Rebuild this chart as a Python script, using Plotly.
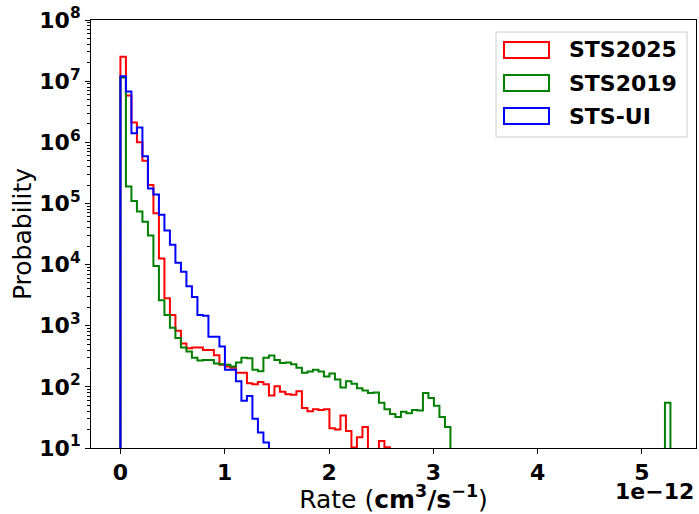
import numpy as np
import plotly.graph_objects as go

# histogram bins: width in units of 1e-12 cm^3/s, bins start at 0
BIN_W = 0.05273
FLOOR = 1e-3  # stand-in for empty bins on the log axis (falls below the range)

labels = ["STS2025", "STS2019", "STS-UI"]
colors = ["#ff0000", "#008000", "#0000ff"]

sts2025 = [2.5e7, 5.8e6, 2.1e6, 1.0e6, 5.0e5, 2.0e5, 6.9e4, 1.26e4, 2.8e3, 1.5e3,
           830, 510, 430, 440, 440, 400, 400, 330, 230, 215,
           205, 170, 170, 115, 110, 120, 110, 72, 102, 83,
           76, 74, 85, 45, 40, 43, 42, 43, 21, 20,
           34, 19, 10.2, 15, 22, 0, 0, 13, 10.3]

sts2019 = [1.15e7, 1.9e5, 1.1e5, 7.4e4, 5.0e4, 3.0e4, 9.5e3, 2.6e3, 1.5e3, 930,
           630, 440, 380, 300, 270, 275, 275, 240, 235, 230,
           215, 250, 300, 295, 190, 180, 300, 325, 275, 245,
           250, 235, 205, 170, 178, 190, 178, 148, 165, 132,
           98, 123, 112, 95, 87, 79, 81, 55, 43, 36,
           32, 39, 37, 42, 41, 79, 66, 49, 32, 22] + [0] * 39 + [55]

sts_ui = [1.2e7, 6.8e6, 1.4e6, 1.75e6, 5.9e5, 1.75e5, 1.4e5, 6.5e4, 3.6e4, 2.1e4,
          1.07e4, 7.6e3, 4.4e3, 2.95e3, 1.5e3, 1.45e3, 660, 660, 455, 190,
          190, 123, 59, 71, 30, 18, 12.3]

x_ticks = [0, 1, 2, 3, 4, 5]
y_exps = [1, 2, 3, 4, 5, 6, 7, 8]

# plot area in pixels (699 x 514 page)
L, R, T, B = 91, 696, 20, 448


def px(x):
    return (x - L) / (R - L)


def py(y):
    return (B - y) / (B - T)


def step_xy(counts):
    c = np.asarray(counts, dtype=float)
    edges = np.arange(len(c) + 1) * BIN_W
    c = np.where(c > 0, c, FLOOR)
    xs = np.concatenate([[edges[0]], edges, [edges[-1]]])
    ys = np.concatenate([[FLOOR], c, [c[-1]], [FLOOR]])
    return xs, ys


fig = go.Figure()
for name, col, data in zip(labels, colors, [sts2025, sts2019, sts_ui]):
    xs, ys = step_xy(data)
    fig.add_scatter(x=xs, y=ys, mode="lines", name=name,
                    line=dict(color=col, width=2, shape="hv"))

tick_font = dict(family="DejaVu Sans", size=22, color="black", weight="bold")

fig.update_layout(
    width=699, height=514,
    margin=dict(l=L, r=699 - R, t=T, b=514 - B),
    paper_bgcolor="white", plot_bgcolor="white",
    font=dict(family="DejaVu Sans", color="black"),
    showlegend=False,
    xaxis=dict(
        range=[-0.282, 5.518], tickvals=x_ticks, ticks="outside", ticklen=5,
        tickwidth=1, tickcolor="black", showline=True, mirror=True,
        linecolor="black", linewidth=1, showgrid=False, zeroline=False,
        tickfont=tick_font,
        title=dict(text="Rate (<b>cm<sup>3</sup>/s<sup>\u22121</sup></b>)",
                   font=dict(size=25), standoff=6),
    ),
    yaxis=dict(
        type="log", range=[1, 8],
        tickvals=[10 ** k for k in y_exps],
        ticktext=[f"10<sup>{k}</sup>" for k in y_exps],
        ticks="outside", ticklen=5, tickwidth=1, tickcolor="black",
        showline=True, mirror=True, linecolor="black", linewidth=1,
        showgrid=False, zeroline=False, tickfont=tick_font,
        minor=dict(ticks="outside", ticklen=3, tickwidth=0.8, tickcolor="black",
                   tickvals=[m * 10 ** k for k in y_exps[:-1] for m in range(2, 10)]),
        title=dict(text="Probability", font=dict(size=25), standoff=0),
    ),
)

# offset text of the x axis
fig.add_annotation(xref="paper", yref="paper", x=px(R), y=py(491),
                   xanchor="right", yanchor="middle", showarrow=False,
                   text="<b>1e\u221212</b>", font=dict(size=22))

# legend drawn like matplotlib's: framed box, outlined patches, bold labels
fig.add_shape(type="rect", xref="paper", yref="paper",
              x0=px(496), x1=px(687), y0=py(137), y1=py(32),
              line=dict(color="#cccccc", width=1), fillcolor="rgba(255,255,255,0.8)")
for i, (name, col) in enumerate(zip(labels, colors)):
    yc = 50 + 33 * i
    fig.add_shape(type="rect", xref="paper", yref="paper",
                  x0=px(504), x1=px(549), y0=py(yc + 8), y1=py(yc - 8),
                  line=dict(color=col, width=2), fillcolor="rgba(0,0,0,0)")
    fig.add_annotation(xref="paper", yref="paper", x=px(567), y=py(yc),
                       xanchor="left", yanchor="middle", showarrow=False,
                       text=f"<b>{name}</b>", font=dict(size=22))

# the page's default body margin would push the 699x514 figure off the window
fig.write_html("out.html", config={"displayModeBar": False},
               post_script="document.body.style.margin='0';")
